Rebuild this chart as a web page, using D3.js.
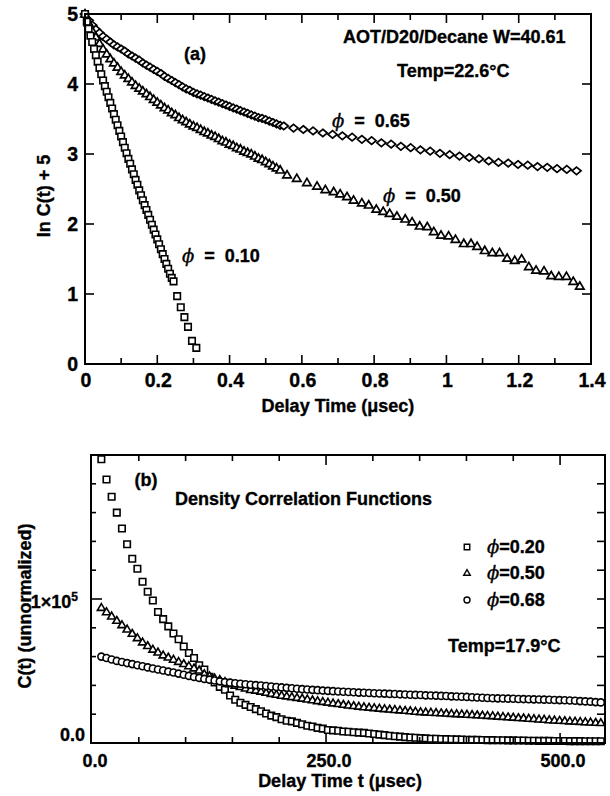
<!DOCTYPE html>
<html>
<head>
<meta charset="utf-8">
<script src="https://cdn.jsdelivr.net/npm/d3@7"></script>
<style>
  html, body { margin: 0; padding: 0; background: #fff; }
  svg { display: block; }
  text { font-family: 'Liberation Sans', Arial, Helvetica, sans-serif; font-weight: bold; fill: #000; font-size: 18px; stroke: #000; stroke-width: 0.35px; }
  .phi { font-family: 'DejaVu Serif', 'Liberation Serif', serif; font-style: italic; font-weight: normal; }
  .tickA { font-size: 19.5px; }
</style>
</head>
<body>
<svg id="chart" width="610" height="796"></svg>
<script>
// ---------- Panel (a): ln C(t) + 5 versus delay time (µs) ----------
const lnC_phi065 = [
  [0.00,5.00],[0.01,4.91],[0.02,4.84],[0.03,4.78],[0.04,4.73],[0.05,4.68],[0.06,4.64],[0.07,4.60],[0.08,4.56],[0.09,4.53],
  [0.10,4.50],[0.11,4.47],[0.12,4.43],[0.13,4.40],[0.14,4.37],[0.15,4.34],[0.16,4.30],[0.17,4.27],[0.18,4.24],[0.19,4.21],
  [0.20,4.18],[0.21,4.15],[0.22,4.11],[0.23,4.08],[0.24,4.05],[0.25,4.02],[0.26,3.99],[0.27,3.96],[0.28,3.93],[0.29,3.91],
  [0.30,3.88],[0.31,3.86],[0.32,3.84],[0.33,3.82],[0.34,3.80],[0.35,3.78],[0.36,3.76],[0.37,3.74],[0.38,3.72],[0.39,3.70],
  [0.40,3.68],[0.41,3.66],[0.42,3.64],[0.43,3.62],[0.44,3.60],[0.45,3.58],[0.46,3.56],[0.47,3.54],[0.48,3.52],[0.49,3.51],
  [0.50,3.49],[0.51,3.47],[0.52,3.45],[0.53,3.43],[0.54,3.41],
  [0.550,3.40],[0.577,3.37],[0.604,3.35],[0.631,3.33],[0.658,3.30],[0.685,3.28],[0.712,3.26],[0.739,3.24],[0.766,3.21],[0.793,3.19],
  [0.820,3.16],[0.847,3.14],[0.874,3.11],[0.901,3.09],[0.928,3.06],[0.955,3.04],[0.982,3.01],[1.009,2.99],[1.036,2.97],[1.063,2.95],
  [1.090,2.93],[1.117,2.90],[1.144,2.88],[1.171,2.87],[1.198,2.85],[1.225,2.84],[1.252,2.82],[1.279,2.81],[1.306,2.79],[1.333,2.78],
  [1.360,2.76]
];

const lnC_phi050 = [
  [0.00,5.00],[0.01,4.87],[0.02,4.76],[0.03,4.67],[0.04,4.58],[0.05,4.50],[0.06,4.43],[0.07,4.36],[0.08,4.30],[0.09,4.24],
  [0.10,4.18],[0.11,4.13],[0.12,4.08],[0.13,4.03],[0.14,3.98],[0.15,3.94],[0.16,3.90],[0.17,3.86],[0.18,3.82],[0.19,3.78],
  [0.20,3.74],[0.21,3.70],[0.22,3.66],[0.23,3.63],[0.24,3.59],[0.25,3.56],[0.26,3.52],[0.27,3.49],[0.28,3.46],[0.29,3.43],
  [0.30,3.40],[0.31,3.38],[0.32,3.35],[0.33,3.32],[0.34,3.30],[0.35,3.27],[0.36,3.25],[0.37,3.22],[0.38,3.19],[0.39,3.17],
  [0.40,3.14],[0.41,3.12],[0.42,3.09],[0.43,3.07],[0.44,3.04],[0.45,3.02],[0.46,3.00],[0.47,2.97],[0.48,2.94],[0.49,2.92],
  [0.50,2.89],[0.51,2.86],[0.52,2.83],[0.53,2.80],[0.54,2.77],
  [0.559,2.70],[0.586,2.65],[0.614,2.59],[0.642,2.54],[0.665,2.49],[0.688,2.46],[0.706,2.43],[0.725,2.39],[0.743,2.34],[0.766,2.30],
  [0.785,2.27],[0.806,2.21],[0.825,2.18],[0.843,2.15],[0.863,2.11],[0.886,2.07],[0.905,2.03],[0.926,1.97],[0.947,1.96],[0.965,1.89],
  [0.985,1.84],[1.006,1.83],[1.025,1.78],[1.048,1.72],[1.068,1.72],[1.085,1.68],[1.106,1.62],[1.127,1.59],[1.147,1.59],[1.168,1.51],
  [1.189,1.48],[1.208,1.50],[1.228,1.39],[1.248,1.34],[1.270,1.33],[1.290,1.26],[1.311,1.25],[1.332,1.25],[1.351,1.18],[1.369,1.11]
];

const lnC_phi010 = [
  [0.000,5.00],[0.005,4.89],[0.010,4.79],[0.015,4.69],[0.020,4.60],[0.025,4.50],[0.030,4.41],[0.035,4.32],[0.040,4.23],[0.045,4.14],
  [0.050,4.05],[0.055,3.97],[0.060,3.89],[0.065,3.81],[0.070,3.73],[0.075,3.65],[0.080,3.57],[0.085,3.49],[0.090,3.41],[0.095,3.33],
  [0.100,3.25],[0.105,3.17],[0.110,3.09],[0.115,3.01],[0.120,2.93],[0.125,2.86],[0.130,2.78],[0.135,2.71],[0.140,2.63],[0.145,2.56],
  [0.150,2.48],[0.155,2.41],[0.160,2.34],[0.165,2.27],[0.170,2.20],[0.175,2.13],[0.180,2.06],[0.185,1.99],[0.190,1.92],[0.195,1.85],
  [0.200,1.78],[0.205,1.71],[0.210,1.64],[0.215,1.57],[0.220,1.50],[0.225,1.43],[0.230,1.36],[0.235,1.29],[0.240,1.23],[0.245,1.18],
  [0.255,0.97],[0.265,0.81],[0.275,0.67],[0.285,0.53],[0.296,0.33],[0.308,0.23]
];

const xTicksA = [0, 0.2, 0.4, 0.6, 0.8, 1, 1.2, 1.4];
const xTickLabelsA = ["0", "0.2", "0.4", "0.6", "0.8", "1", "1.2", "1.4"];
const xMinorA = [0.1, 0.3, 0.5, 0.7, 0.9, 1.1, 1.3];
const yTicksA = [0, 1, 2, 3, 4, 5];
const yTickLabelsA = ["0", "1", "2", "3", "4", "5"];

// ---------- Panel (b): C(t), in units of 1e5, versus delay time t (µs) ----------
const timeB = [
  10, 15.5, 21, 26.5, 32, 37.5, 43, 48.5, 54, 59.5,
  65, 70.5, 76, 81.5, 87, 92.5, 98, 103.5, 109, 114.5,
  120, 125.5, 131, 136.5, 142, 147.5, 153, 158.5, 164, 169.5,
  175, 180.5, 186, 191.5, 197, 202.5, 208, 213.5, 219, 224.5,
  230, 235.5, 241, 246.5, 252, 257.5, 263, 268.5, 274, 279.5,
  285, 290.5, 296, 301.5, 307, 312.5, 318, 323.5, 329, 334.5,
  340, 345.5, 351, 356.5, 362, 367.5, 373, 378.5, 384, 389.5,
  395, 400.5, 406, 411.5, 417, 422.5, 428, 433.5, 439, 444.5,
  450, 455.5, 461, 466.5, 472, 477.5, 483, 488.5, 494, 499.5,
  505, 510.5, 516, 521.5, 527, 532.5, 538, 543.5
];
const C_phi020 = [
  1.97, 1.83, 1.71, 1.60, 1.49, 1.38, 1.28, 1.21, 1.12, 1.05,
  0.99, 0.91, 0.86, 0.81, 0.76, 0.72, 0.67, 0.625, 0.59, 0.54,
  0.51, 0.46, 0.42, 0.39, 0.37, 0.33, 0.30, 0.28, 0.265, 0.25,
  0.235, 0.22, 0.205, 0.19, 0.18, 0.165, 0.155, 0.15, 0.14, 0.13,
  0.12, 0.115, 0.105, 0.10, 0.09, 0.088, 0.085, 0.08, 0.078, 0.075,
  0.072, 0.07, 0.066, 0.062, 0.058, 0.055, 0.05, 0.047, 0.044, 0.041,
  0.038, 0.036, 0.034, 0.032, 0.03, 0.029, 0.028, 0.027, 0.026, 0.025,
  0.024, 0.023, 0.022, 0.022, 0.021, 0.02, 0.02, 0.019, 0.019, 0.018,
  0.018, 0.017, 0.017, 0.016, 0.016, 0.015, 0.015, 0.015, 0.014, 0.014,
  0.014, 0.013, 0.013, 0.013, 0.012, 0.012, 0.012, 0.012
];
const C_phi050 = [
  0.94, 0.91, 0.88, 0.85, 0.82, 0.79, 0.76, 0.73, 0.70, 0.675,
  0.65, 0.63, 0.61, 0.595, 0.58, 0.565, 0.55, 0.535, 0.52, 0.505,
  0.48, 0.465, 0.45, 0.44, 0.425, 0.41, 0.40, 0.39, 0.38, 0.37,
  0.365, 0.358, 0.35, 0.343, 0.337, 0.33, 0.325, 0.32, 0.315, 0.31,
  0.304, 0.298, 0.292, 0.287, 0.282, 0.277, 0.272, 0.267, 0.262, 0.258,
  0.254, 0.25, 0.247, 0.244, 0.24, 0.237, 0.234, 0.231, 0.228, 0.225,
  0.222, 0.219, 0.216, 0.214, 0.212, 0.21, 0.208, 0.206, 0.204, 0.202,
  0.20, 0.198, 0.196, 0.194, 0.192, 0.19, 0.188, 0.185, 0.183, 0.18,
  0.178, 0.175, 0.173, 0.17, 0.168, 0.165, 0.163, 0.16, 0.158, 0.156,
  0.154, 0.152, 0.15, 0.148, 0.146, 0.144, 0.142, 0.14
];
const C_phi068 = [
  0.60, 0.59, 0.58, 0.57, 0.562, 0.555, 0.548, 0.54, 0.533, 0.525,
  0.517, 0.51, 0.503, 0.496, 0.49, 0.482, 0.474, 0.466, 0.459, 0.452,
  0.445, 0.44, 0.434, 0.428, 0.423, 0.419, 0.415, 0.411, 0.408, 0.405,
  0.402, 0.399, 0.396, 0.392, 0.389, 0.386, 0.383, 0.38, 0.377, 0.374,
  0.372, 0.369, 0.367, 0.364, 0.362, 0.36, 0.358, 0.356, 0.354, 0.352,
  0.35, 0.349, 0.347, 0.346, 0.344, 0.343, 0.341, 0.34, 0.338, 0.337,
  0.335, 0.334, 0.333, 0.331, 0.33, 0.329, 0.327, 0.326, 0.324, 0.323,
  0.321, 0.32, 0.318, 0.316, 0.314, 0.312, 0.311, 0.31, 0.309, 0.308,
  0.307, 0.306, 0.305, 0.304, 0.303, 0.302, 0.301, 0.30, 0.299, 0.298,
  0.297, 0.295, 0.293, 0.291, 0.289, 0.287, 0.284, 0.282
];

const xTicksB = [0, 250, 500];
const xTickLabelsB = ["0.0", "250.0", "500.0"];
const xMinorB = [50, 100, 150, 200, 300, 350, 400, 450];
const yMajorB = [0, 1, 2];
const yMinorB = [0.2, 0.4, 0.6, 0.8, 1.2, 1.4, 1.6, 1.8];
const legendB = ["0.20", "0.50", "0.68"];

// ---------- drawing ----------
const svg = d3.select("#chart");

const shapes = {
  square: s => `M${-s/2},${-s/2}h${s}v${s}h${-s}Z`,
  triangle: w => { const h = w * 0.85; return `M0,${-h*0.6}L${w/2},${h*0.4}L${-w/2},${h*0.4}Z`; },
  diamond: (w, h) => `M0,${-h/2}L${w/2},0L0,${h/2}L${-w/2},0Z`,
  circle: d => { const r = d / 2; return `M${-r},0a${r},${r} 0 1,0 ${2*r},0a${r},${r} 0 1,0 ${-2*r},0Z`; }
};

function drawSeries(g, data, xs, ys, path, sw) {
  g.append("g").selectAll("path").data(data).join("path")
    .attr("d", path)
    .attr("transform", d => `translate(${xs(d[0])},${ys(d[1])})`)
    .attr("fill", "#fff")
    .attr("stroke", "#000")
    .attr("stroke-width", sw);
}

function ticks(g, values, pos, len, side, x0, y0, x1, y1) {
  // side: "bottom" | "top" | "left" | "right"; ticks point into the plot
  g.append("g").selectAll("line").data(values).join("line")
    .attr("x1", d => side === "left" ? x0 : side === "right" ? x1 : pos(d))
    .attr("x2", d => side === "left" ? x0 + len : side === "right" ? x1 - len : pos(d))
    .attr("y1", d => side === "bottom" ? y1 : side === "top" ? y0 : pos(d))
    .attr("y2", d => side === "bottom" ? y1 - len : side === "top" ? y0 + len : pos(d))
    .attr("stroke", "#000").attr("stroke-width", 1.6);
}

function phiText(g, x, y, rest, anchor) {
  const t = g.append("text").attr("x", x).attr("y", y).attr("text-anchor", anchor || "start")
    .style("white-space", "pre");
  t.append("tspan").attr("class", "phi").text("\u03D5");
  t.append("tspan").text(rest);
  return t;
}

// ----- panel (a) -----
const xA = d3.scaleLinear().domain([0, 1.4]).range([85, 591]);
const yA = d3.scaleLinear().domain([0, 5]).range([364, 14]);
const gA = svg.append("g");

drawSeries(gA, lnC_phi065, xA, yA, shapes.diamond(9, 7.5), 1.7);
drawSeries(gA, lnC_phi050, xA, yA, shapes.triangle(8.5), 1.7);
drawSeries(gA, lnC_phi010, xA, yA, shapes.square(6.5), 1.6);

gA.append("rect").attr("x", xA(0)).attr("y", yA(5)).attr("width", xA(1.4) - xA(0)).attr("height", yA(0) - yA(5))
  .attr("fill", "none").attr("stroke", "#000").attr("stroke-width", 2);
["bottom", "top"].forEach(s => {
  ticks(gA, xTicksA.slice(1, -1), xA, 9, s, xA(0), yA(5), xA(1.4), yA(0));
  ticks(gA, xMinorA, xA, 6, s, xA(0), yA(5), xA(1.4), yA(0));
});
["left", "right"].forEach(s => ticks(gA, yTicksA.slice(1, -1), yA, 9, s, xA(0), yA(5), xA(1.4), yA(0)));

gA.append("g").selectAll("text").data(xTicksA).join("text")
  .attr("class", "tickA")
  .attr("x", d => xA(d) + 1).attr("y", 387).attr("text-anchor", "middle")
  .text((d, i) => xTickLabelsA[i]);
gA.append("g").selectAll("text").data(yTicksA).join("text")
  .attr("class", "tickA")
  .attr("x", 78).attr("y", d => yA(d) + 7).attr("text-anchor", "end")
  .text((d, i) => yTickLabelsA[i]);

gA.append("text").attr("x", 338).attr("y", 412).attr("text-anchor", "middle").text("Delay Time (\u03BCsec)");
gA.append("text").attr("transform", "translate(50,196) rotate(-90)").attr("text-anchor", "middle").text("ln C(t) + 5");

gA.append("text").attr("x", 195).attr("y", 60).attr("text-anchor", "middle").text("(a)");
gA.append("text").attr("x", 343).attr("y", 43).text("AOT/D20/Decane W=40.61");
gA.append("text").attr("x", 397).attr("y", 77).text("Temp=22.6\u00B0C");
phiText(gA, 332, 127, "  =  0.65");
phiText(gA, 383, 202, "  =  0.50");
phiText(gA, 182, 262, "  =  0.10");

// ----- panel (b) -----
const xB = d3.scaleLinear().domain([0, 548]).range([92, 605]);
const yB = d3.scaleLinear().domain([0, 2]).range([743, 455]);
const gB = svg.append("g");
const fL = 91, fR = 605, fT = yB(2), fB = yB(0);

drawSeries(gB, timeB.map((t, i) => [t, C_phi020[i]]), xB, yB, shapes.square(6.5), 1.6);
drawSeries(gB, timeB.map((t, i) => [t, C_phi050[i]]), xB, yB, shapes.triangle(8), 1.6);
drawSeries(gB, timeB.map((t, i) => [t, C_phi068[i]]), xB, yB, shapes.circle(7), 1.6);

gB.append("rect").attr("x", fL).attr("y", fT).attr("width", fR - fL).attr("height", fB - fT)
  .attr("fill", "none").attr("stroke", "#000").attr("stroke-width", 2);
["bottom", "top"].forEach(s => {
  ticks(gB, xTicksB.slice(1), xB, 10, s, fL, fT, fR, fB);
  ticks(gB, xMinorB, xB, 6, s, fL, fT, fR, fB);
});
ticks(gB, [1], yB, 11, "left", fL, fT, fR, fB);
ticks(gB, yMinorB, yB, 5, "left", fL, fT, fR, fB);
ticks(gB, [1].concat(yMinorB), yB, 8, "right", fL, fT, fR, fB);

gB.append("g").selectAll("text").data(xTicksB).join("text")
  .attr("x", d => xB(d) + 3).attr("y", 767).attr("text-anchor", "middle")
  .text((d, i) => xTickLabelsB[i]);
gB.append("text").attr("x", 85).attr("y", yB(0) - 2).attr("text-anchor", "end").text("0.0");
const lab1e5 = gB.append("text").attr("x", 78).attr("y", yB(1) + 9).attr("text-anchor", "end");
lab1e5.append("tspan").text("1\u00D710");
lab1e5.append("tspan").attr("dy", -7).style("font-size", "12px").text("5");

gB.append("text").attr("x", 340).attr("y", 787).attr("text-anchor", "middle").text("Delay Time t (\u03BCsec)");
gB.append("text").attr("transform", "translate(31,606) rotate(-90)").attr("text-anchor", "middle").text("C(t) (unnormalized)");

gB.append("text").attr("x", 146).attr("y", 486).attr("text-anchor", "middle").text("(b)");
gB.append("text").attr("x", 175).attr("y", 505).text("Density Correlation Functions");
gB.append("text").attr("x", 448).attr("y", 652).text("Temp=17.9\u00B0C");

// legend
const legShapes = [shapes.square(5.5), shapes.triangle(6.5), shapes.circle(6)];
const legY = [547, 573, 600];
legendB.forEach((lab, i) => {
  gB.append("path").attr("d", legShapes[i]).attr("transform", `translate(467,${legY[i]})`)
    .attr("fill", "#fff").attr("stroke", "#000").attr("stroke-width", 1.4);
  phiText(gB, 487, legY[i] + 6, "=" + lab);
});
</script>
</body>
</html>
